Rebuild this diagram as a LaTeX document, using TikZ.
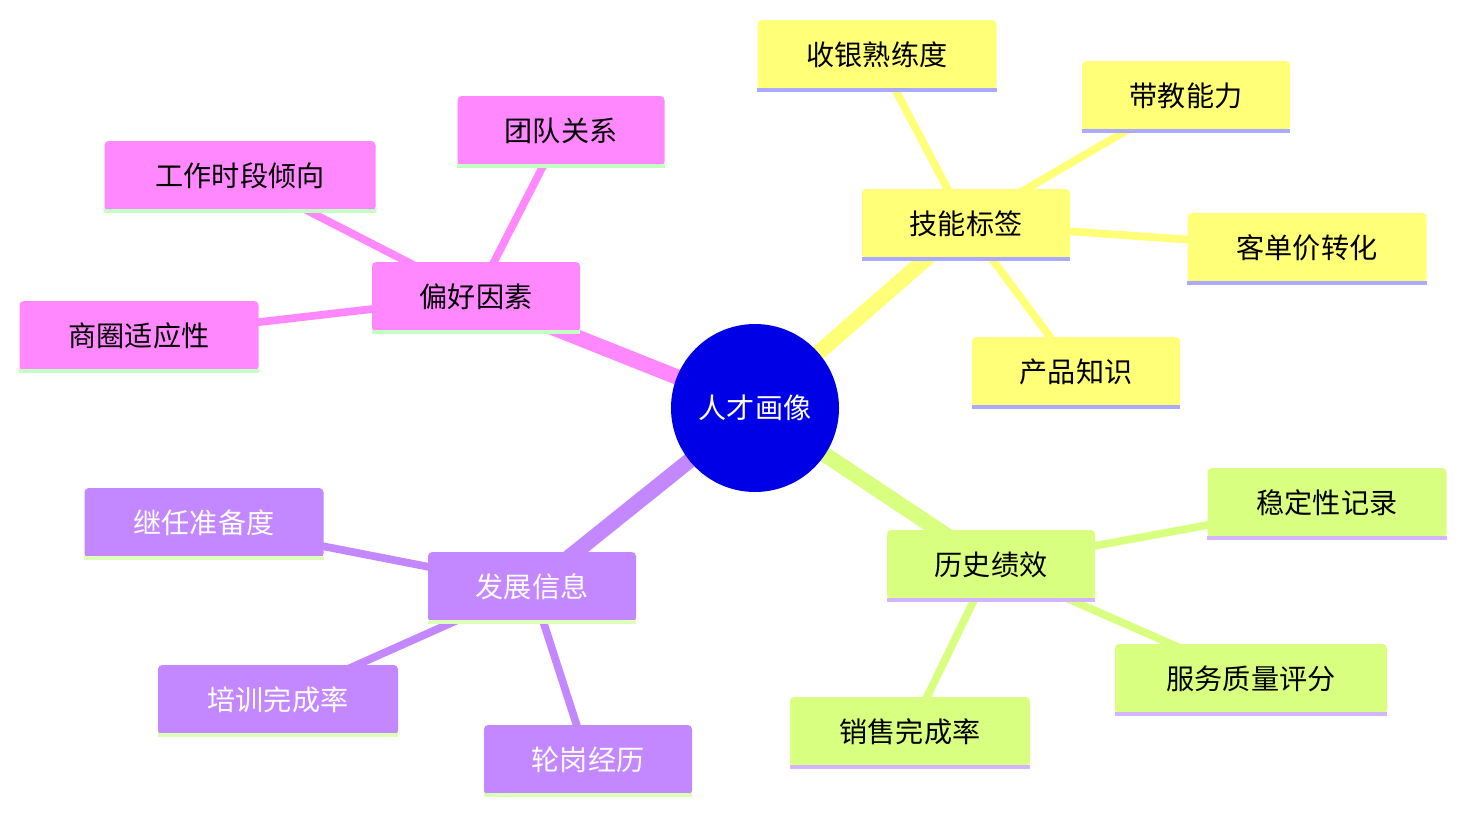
\documentclass[tikz,border=0pt]{standalone}
\usepackage{fontspec}
\setmainfont{Noto Sans CJK SC}
\begin{document}
\begin{tikzpicture}[x=0.025cm,y=-0.025cm,
 box/.style={rounded corners=3pt,minimum height=70*0.025cm,font=\fontsize{20}{24}\selectfont,inner sep=0pt},
 uline/.style={line width=3pt},
 mainedge/.style={line width=11pt},
 subedge/.style={line width=5.5pt}]
\useasboundingbox (0,0) rectangle (1467,812);
\definecolor{ye}{HTML}{FFFF78}\definecolor{yu}{HTML}{AAAAFF}
\definecolor{gr}{HTML}{D9FF80}\definecolor{gu}{HTML}{D2B4FF}
\definecolor{pk}{HTML}{FF88FF}\definecolor{pu}{HTML}{C4FFC4}
\definecolor{pu2}{HTML}{C388FF}\definecolor{puu}{HTML}{DDFFB8}
\newcommand{\bx}[6]{% name, cx, cy, w, fill, underline, text
 \node[box,fill=#5,minimum width=#4*0.025cm] (#1) at (#2,#3) {};}
% edges first
\coordinate (C) at (755,408);
\coordinate (jn) at (966,224); \coordinate (ls) at (991,565);
\coordinate (fz) at (532,587); \coordinate (ph) at (476,297);
\draw[ye,mainedge] (C) -- (jn);
\draw[gr,mainedge] (C) -- (ls);
\draw[pu2,mainedge] (C) -- (fz);
\draw[pk,mainedge] (C) -- (ph);
\foreach \a/\b in {877/55,1186/96,1307/248,1076/372}{\draw[ye,subedge] (jn) -- (\a,\b);}
\foreach \a/\b in {1327/503,1251/679,910/732}{\draw[gr,subedge] (ls) -- (\a,\b);}
\foreach \a/\b in {204/523,278/700,588/760}{\draw[pu2,subedge] (fz) -- (\a,\b);}
\foreach \a/\b in {561/131,240/176,139/336}{\draw[pk,subedge] (ph) -- (\a,\b);}
% nodes
\foreach \n/\x/\y/\w/\f/\u/\t/\tc in {
 a/966/224/208/ye/yu/技能标签/black,
 b/877/55/239/ye/yu/收银熟练度/black,
 c/1186/96/208/ye/yu/带教能力/black,
 d/1307/248/239/ye/yu/客单价转化/black,
 e/1076/372/208/ye/yu/产品知识/black,
 f/991/565/208/gr/gu/历史绩效/black,
 g/1327/503/239/gr/gu/稳定性记录/black,
 h/1251/679/272/gr/gu/服务质量评分/black,
 i/910/732/240/gr/gu/销售完成率/black,
 j/532/587/208/pu2/puu/发展信息/white,
 k/204/523/239/pu2/puu/继任准备度/white,
 l/278/700/240/pu2/puu/培训完成率/white,
 m/588/760/208/pu2/puu/轮岗经历/white,
 n/476/297/208/pk/pu/偏好因素/black,
 o/561/131/207/pk/pu/团队关系/black,
 p/240/176/271/pk/pu/工作时段倾向/black,
 q/139/336/239/pk/pu/商圈适应性/black}{
 \node[box,fill=\f,minimum width=\w*0.025cm,text=\tc] (\n) at (\x,\y) {\t};
 \draw[\u,uline] (\n.south west) -- (\n.south east);
}
\node[circle,fill=blue!85!black,fill={rgb,255:red,0;green,0;blue,230},minimum size=168*0.025cm,text=white,font=\fontsize{20}{24}\selectfont] (root) at (C) {人才画像};
\end{tikzpicture}
\end{document}
